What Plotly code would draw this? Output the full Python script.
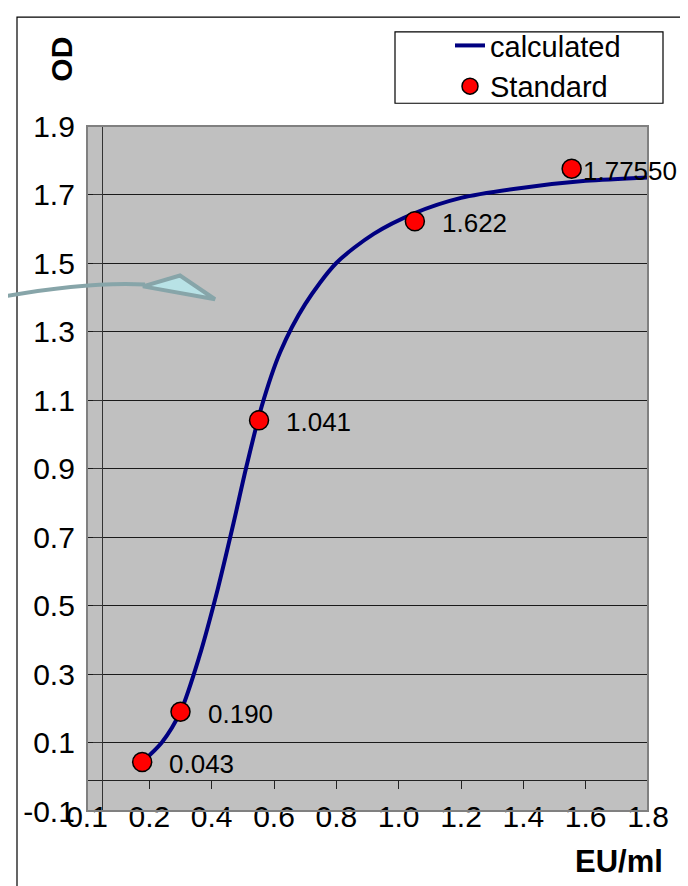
import plotly.graph_objects as go

# ---------------- data ----------------
std_x = [0.177, 0.300, 0.552, 1.052, 1.555]
std_y = [0.043, 0.190, 1.041, 1.622, 1.7755]
std_labels = ["0.043", "0.190", "1.041", "1.622", "1.77550"]

calc_x = [0.177, 0.24, 0.30, 0.36, 0.42, 0.47, 0.51, 0.56, 0.62, 0.70, 0.80, 0.92, 1.05, 1.20, 1.40, 1.60, 1.80]
calc_y = [0.043, 0.10, 0.19, 0.35, 0.55, 0.74, 0.90, 1.08, 1.24, 1.38, 1.50, 1.585, 1.645, 1.69, 1.72, 1.74, 1.75]

x_tickvals = [0.0, 0.2, 0.4, 0.6, 0.8, 1.0, 1.2, 1.4, 1.6, 1.8]
x_ticktext = ["0.1", "0.2", "0.4", "0.6", "0.8", "1.0", "1.2", "1.4", "1.6", "1.8"]
y_tickvals = [-0.1, 0.1, 0.3, 0.5, 0.7, 0.9, 1.1, 1.3, 1.5, 1.7, 1.9]
y_ticktext = ["-0.1", "0.1", "0.3", "0.5", "0.7", "0.9", "1.1", "1.3", "1.5", "1.7", "1.9"]

# ---------------- layout geometry (page pixel coords) ----------------
PAGE_OFF = 8                     # default body margin of the html page
W, H = 688 - PAGE_OFF, 886 - PAGE_OFF
P_L, P_R, P_T, P_B = 87, 648, 119, 811   # plot area on the page
ML, MR, MT, MB = P_L - PAGE_OFF, 688 - P_R, P_T - PAGE_OFF, 886 - P_B
PW, PH = P_R - P_L, P_B - P_T
FONT = "Liberation Sans, Arial, sans-serif"


def px(x):
    return (x - P_L) / PW


def py(y):
    return (P_B - y) / PH


fig = go.Figure()
fig.add_trace(go.Scatter(
    x=calc_x, y=calc_y, mode="lines", name="calculated",
    line=dict(color="#000080", width=4, shape="spline", smoothing=0.8),
))
fig.add_trace(go.Scatter(
    x=std_x, y=std_y, mode="markers", name="Standard",
    marker=dict(color="#FF0000", size=19, line=dict(color="#000000", width=1.5)),
))

annotations = []
label_shift = {4: 9}
for i, (xv, yv, t) in enumerate(zip(std_x, std_y, std_labels)):
    annotations.append(dict(
        x=xv, y=yv, xref="x", yref="y", text=t, showarrow=False,
        xanchor="left", yanchor="middle", xshift=label_shift.get(i, 25), yshift=-2,
        font=dict(family=FONT, size=26, color="#000"),
    ))

annotations.append(dict(
    x=px(62), y=py(52), xref="paper", yref="paper", text="<b>OD</b>", textangle=-90,
    showarrow=False, xanchor="center", yanchor="middle",
    font=dict(family=FONT, size=30, color="#000"),
))
annotations.append(dict(
    x=px(619), y=py(862), xref="paper", yref="paper", text="<b>EU/ml</b>",
    showarrow=False, xanchor="center", yanchor="middle",
    font=dict(family=FONT, size=31, color="#000"),
))

shapes = []
# outer chart frame
shapes.append(dict(type="rect", xref="paper", yref="paper",
                   x0=px(17), x1=px(684), y0=py(900), y1=py(9),
                   line=dict(color="#000", width=1.2), fillcolor="rgba(0,0,0,0)", layer="below"))
# plot area border
shapes.append(dict(type="rect", xref="paper", yref="paper", x0=0, x1=1, y0=0, y1=1,
                   line=dict(color="#808080", width=2), layer="above"))
# legend box
shapes.append(dict(type="rect", xref="paper", yref="paper",
                   x0=px(395), x1=px(663), y0=py(96), y1=py(24),
                   line=dict(color="#000", width=1.2), fillcolor="#FFFFFF"))


# decorative arrow
def pt(x, y):
    return f"{px(x):.5f},{py(y):.5f}"


shapes.append(dict(type="path", xref="paper", yref="paper",
                   path=f"M{pt(0, 292)} Q{pt(85, 276)} {pt(145, 279)}",
                   line=dict(color="#87A5A9", width=4), layer="above"))
shapes.append(dict(type="path", xref="paper", yref="paper",
                   path=f"M{pt(143, 281)} L{pt(180, 270)} L{pt(215, 294)} Z",
                   line=dict(color="#87A5A9", width=4), fillcolor="#B8E2E6", layer="above"))

fig.update_layout(
    width=W, height=H,
    margin=dict(l=ML, r=MR, t=MT, b=MB, pad=0),
    paper_bgcolor="#FFFFFF", plot_bgcolor="#C0C0C0",
    font=dict(family=FONT, size=29, color="#000"),
    showlegend=True,
    legend=dict(x=px(450), y=py(12), xanchor="left", yanchor="top",
                bgcolor="rgba(0,0,0,0)", borderwidth=0,
                font=dict(family=FONT, size=29, color="#000"),
                itemwidth=30, tracegroupgap=0),
    annotations=annotations,
    shapes=shapes,
    xaxis=dict(range=[0, 1.8], tickvals=x_tickvals, ticktext=x_ticktext,
               showgrid=False, zeroline=False,
               anchor="free", position=py(780),
               showline=True, linecolor="#222", linewidth=1,
               ticks="outside", ticklen=8, tickcolor="#222",
               ticklabelstandoff=2,
               tickfont=dict(family=FONT, size=30, color="#000")),
    yaxis=dict(range=[-0.1, 1.9], tickvals=y_tickvals, ticktext=y_ticktext,
               showgrid=True, gridcolor="#1a1a1a", gridwidth=1, zeroline=False,
               anchor="free", position=px(102),
               showline=True, linecolor="#333", linewidth=1.2,
               ticks="outside", ticklen=9, tickcolor="#333",
               ticklabelstandoff=12,
               tickfont=dict(family=FONT, size=30, color="#000")),
)

fig.write_html("out.html")
